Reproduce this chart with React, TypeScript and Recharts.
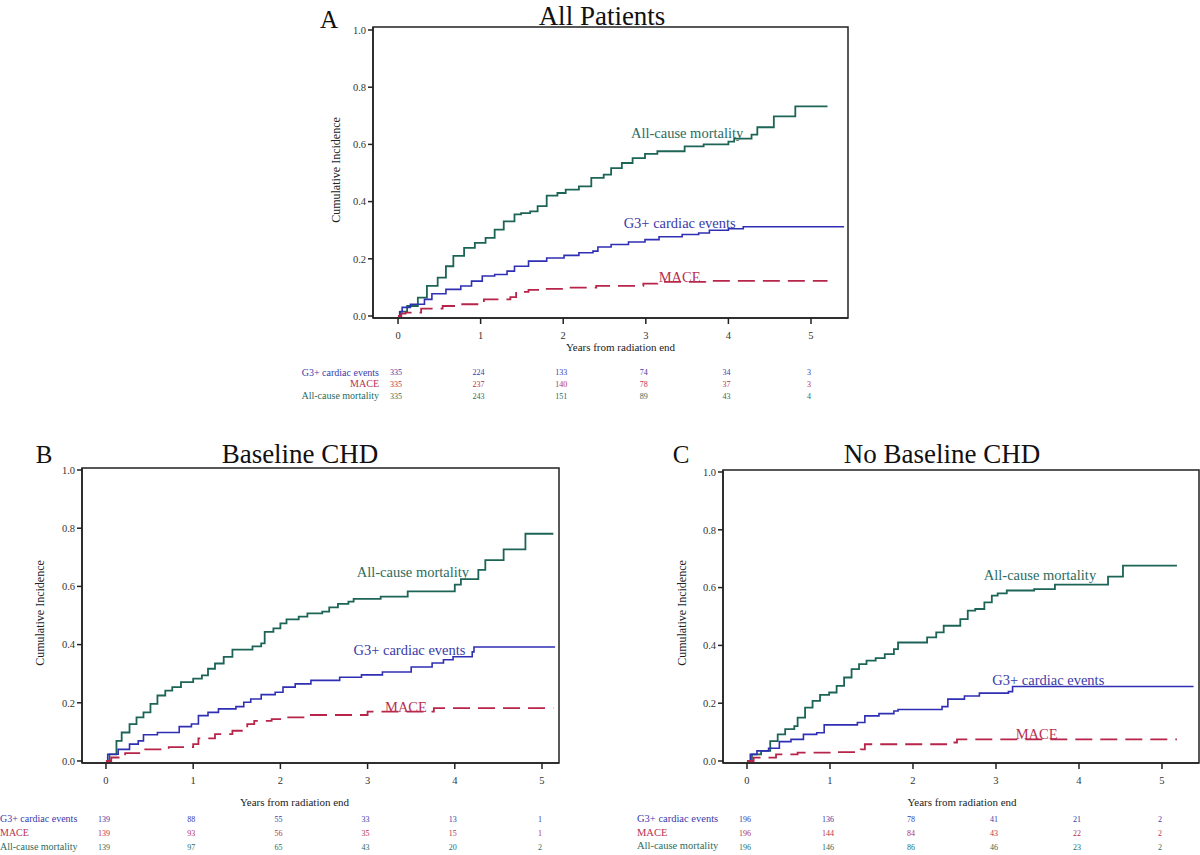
import React from 'react';
import { LineChart, Line, XAxis, YAxis, ReferenceArea, ReferenceDot } from 'recharts';

type Pt = { t: number; v: number };
const pts = (a: number[][]): Pt[] => a.map(([t, v]) => ({ t, v }));

// ---------- shared categories / ticks ----------
const yearTicks = [0, 1, 2, 3, 4, 5];
const incidenceTicks = [0, 0.2, 0.4, 0.6, 0.8, 1.0];
const seriesNames = ['G3+ cardiac events', 'MACE', 'All-cause mortality'];
const panelTitles = ['All Patients', 'Baseline CHD', 'No Baseline CHD'];
const panelLetters = ['A', 'B', 'C'];
const xAxisTitle = 'Years from radiation end';
const yAxisTitle = 'Cumulative Incidence';

// ---------- Panel A : All Patients ----------
const allMortality = pts([
  [0, 0], [0.03, 0.015], [0.11, 0.035], [0.24, 0.064], [0.35, 0.105], [0.48, 0.134], [0.58, 0.174],
  [0.67, 0.21], [0.8, 0.238], [0.93, 0.256], [1.06, 0.273], [1.17, 0.302], [1.28, 0.331], [1.41, 0.355],
  [1.49, 0.36], [1.6, 0.366], [1.69, 0.384], [1.8, 0.421], [1.93, 0.43], [2.03, 0.442], [2.19, 0.453],
  [2.34, 0.483], [2.49, 0.494], [2.58, 0.517], [2.71, 0.535], [2.84, 0.552], [2.99, 0.567], [3.14, 0.576],
  [3.47, 0.593], [3.7, 0.6], [4.0, 0.61], [4.07, 0.62], [4.28, 0.634], [4.35, 0.66], [4.55, 0.698],
  [4.81, 0.733], [5.2, 0.733],
]);
const allG3 = pts([
  [0, 0], [0.02, 0.015], [0.05, 0.03], [0.15, 0.041], [0.32, 0.058], [0.41, 0.078], [0.58, 0.093],
  [0.76, 0.105], [0.89, 0.122], [1.02, 0.14], [1.17, 0.145], [1.32, 0.157], [1.41, 0.174], [1.58, 0.192],
  [1.8, 0.203], [2.01, 0.212], [2.19, 0.221], [2.36, 0.227], [2.42, 0.241], [2.58, 0.25], [2.79, 0.259],
  [2.99, 0.267], [3.16, 0.277], [3.44, 0.285], [3.64, 0.29], [3.77, 0.3], [4.0, 0.305], [4.18, 0.312],
  [5.4, 0.312],
]);
const allMace = pts([
  [0, 0], [0.04, 0.008], [0.09, 0.012], [0.28, 0.026], [0.54, 0.035], [0.76, 0.041], [1.0, 0.044],
  [1.04, 0.058], [1.36, 0.066], [1.43, 0.084], [1.58, 0.091], [1.75, 0.095], [2.01, 0.099], [2.4, 0.105],
  [2.97, 0.113], [3.14, 0.119], [3.72, 0.123], [5.2, 0.123],
]);
const allRiskG3 = [335, 224, 133, 74, 34, 3];
const allRiskMace = [335, 237, 140, 78, 37, 3];
const allRiskMortality = [335, 243, 151, 89, 43, 4];

// ---------- Panel B : Baseline CHD ----------
const chdMortality = pts([
  [0, 0], [0.04, 0.023], [0.12, 0.069], [0.18, 0.098], [0.27, 0.127], [0.35, 0.15], [0.43, 0.167],
  [0.51, 0.196], [0.59, 0.225], [0.68, 0.242], [0.76, 0.254], [0.86, 0.271], [1.0, 0.283], [1.1, 0.294],
  [1.17, 0.317], [1.25, 0.335], [1.35, 0.358], [1.45, 0.383], [1.68, 0.394], [1.78, 0.404], [1.82, 0.444],
  [1.92, 0.456], [2.0, 0.473], [2.07, 0.487], [2.21, 0.496], [2.31, 0.507], [2.48, 0.513], [2.56, 0.528],
  [2.66, 0.54], [2.78, 0.548], [2.84, 0.557], [3.15, 0.565], [3.46, 0.583], [4.0, 0.606], [4.07, 0.625],
  [4.27, 0.657], [4.35, 0.69], [4.56, 0.727], [4.81, 0.781], [5.13, 0.781],
]);
const chdG3 = pts([
  [0, 0], [0.02, 0.023], [0.14, 0.04], [0.27, 0.058], [0.37, 0.069], [0.43, 0.09], [0.59, 0.098],
  [0.84, 0.118], [0.98, 0.127], [1.06, 0.156], [1.17, 0.167], [1.29, 0.179], [1.49, 0.187], [1.58, 0.202],
  [1.66, 0.213], [1.78, 0.228], [1.94, 0.236], [2.03, 0.254], [2.17, 0.265], [2.35, 0.277], [2.68, 0.288],
  [2.93, 0.296], [3.17, 0.306], [3.5, 0.323], [3.74, 0.337], [3.87, 0.348], [3.98, 0.358], [4.2, 0.375],
  [4.22, 0.392], [5.15, 0.392],
]);
const chdMace = pts([
  [0, 0], [0.06, 0.012], [0.22, 0.027], [0.43, 0.04], [0.72, 0.048], [1.0, 0.058], [1.06, 0.078],
  [1.25, 0.092], [1.45, 0.104], [1.62, 0.127], [1.7, 0.138], [1.9, 0.144], [2.03, 0.15], [2.33, 0.158],
  [3.0, 0.17], [3.76, 0.182], [5.13, 0.182],
]);
const chdRiskG3 = [139, 88, 55, 33, 13, 1];
const chdRiskMace = [139, 93, 56, 35, 15, 1];
const chdRiskMortality = [139, 97, 65, 43, 20, 2];

// ---------- Panel C : No Baseline CHD ----------
const noChdMortality = pts([
  [0, 0], [0.06, 0.023], [0.17, 0.035], [0.28, 0.069], [0.37, 0.092], [0.46, 0.11], [0.57, 0.121],
  [0.61, 0.15], [0.7, 0.185], [0.79, 0.208], [0.88, 0.229], [0.99, 0.237], [1.08, 0.26], [1.17, 0.289],
  [1.26, 0.318], [1.35, 0.335], [1.44, 0.347], [1.55, 0.356], [1.66, 0.37], [1.77, 0.387], [1.82, 0.41],
  [2.17, 0.428], [2.28, 0.445], [2.37, 0.468], [2.57, 0.491], [2.66, 0.52], [2.75, 0.526], [2.86, 0.549],
  [2.95, 0.572], [3.02, 0.58], [3.13, 0.59], [3.46, 0.595], [3.71, 0.61], [4.35, 0.638], [4.53, 0.676],
  [5.18, 0.676],
]);
const noChdG3 = pts([
  [0, 0], [0.04, 0.023], [0.12, 0.035], [0.26, 0.044], [0.39, 0.067], [0.53, 0.075], [0.68, 0.092],
  [0.84, 0.098], [0.93, 0.125], [1.33, 0.133], [1.42, 0.156], [1.59, 0.164], [1.77, 0.173], [1.82, 0.178],
  [2.35, 0.188], [2.42, 0.214], [2.62, 0.225], [2.8, 0.235], [3.15, 0.24], [3.2, 0.258], [5.38, 0.258],
]);
const noChdMace = pts([
  [0, 0], [0.08, 0.012], [0.35, 0.023], [0.61, 0.029], [1.04, 0.031], [1.37, 0.04], [1.42, 0.058],
  [2.4, 0.064], [2.53, 0.075], [5.18, 0.075],
]);
const noChdRiskG3 = [196, 136, 78, 41, 21, 2];
const noChdRiskMace = [196, 144, 84, 43, 22, 2];
const noChdRiskMortality = [196, 146, 86, 46, 23, 2];

// ---------- styles ----------
const FONT = '"Liberation Serif", "Times New Roman", serif';
const C_G3 = '#2f2fb4';
const C_MACE = '#b8244a';
const C_MORT = '#1c6456';
const T_G3 = '#3a3aa8';
const T_MACE = '#b83050';
const T_MORT = '#2b6c60';
const rowColors = [T_G3, T_MACE, T_MORT];
const AXIS = '#222';

type PanelCfg = {
  frame: { L: number; T: number; R: number; B: number };
  xDomain: [number, number];
  yDomain: [number, number];
  g3: Pt[]; mace: Pt[]; mort: Pt[];
  risk: number[][];
  notes: { x: number; y: number; text: string; color: string }[];
  offs: { tick: number; label: number; rows: number[] };
  labelDx: number;
};

const panels: PanelCfg[] = [
  {
    frame: { L: 373, T: 27, R: 848, B: 318 },
    xDomain: [-0.303, 5.448],
    yDomain: [-0.007, 1.0105],
    g3: allG3, mace: allMace, mort: allMortality,
    risk: [allRiskG3, allRiskMace, allRiskMortality],
    notes: [
      { x: 3.5, y: 0.64, text: seriesNames[2], color: T_MORT },
      { x: 3.41, y: 0.325, text: seriesNames[0], color: T_G3 },
      { x: 3.41, y: 0.136, text: seriesNames[1], color: T_MACE },
    ],
    offs: { tick: 17, label: 29, rows: [54.5, 66, 78] },
    labelDx: 10,
  },
  {
    frame: { L: 82, T: 468, R: 559, B: 763 },
    xDomain: [-0.275, 5.195],
    yDomain: [-0.0069, 1.0069],
    g3: chdG3, mace: chdMace, mort: chdMortality,
    risk: [chdRiskG3, chdRiskMace, chdRiskMortality],
    notes: [
      { x: 3.52, y: 0.648, text: seriesNames[2], color: T_MORT },
      { x: 3.48, y: 0.38, text: seriesNames[0], color: T_G3 },
      { x: 3.44, y: 0.187, text: seriesNames[1], color: T_MACE },
    ],
    offs: { tick: 17, label: 39, rows: [56, 70, 84] },
    labelDx: -26,
  },
  {
    frame: { L: 723, T: 470, R: 1199, B: 763 },
    xDomain: [-0.289, 5.446],
    yDomain: [-0.0069, 1.0069],
    g3: noChdG3, mace: noChdMace, mort: noChdMortality,
    risk: [noChdRiskG3, noChdRiskMace, noChdRiskMortality],
    notes: [
      { x: 3.53, y: 0.645, text: seriesNames[2], color: T_MORT },
      { x: 3.63, y: 0.28, text: seriesNames[0], color: T_G3 },
      { x: 3.49, y: 0.095, text: seriesNames[1], color: T_MACE },
    ],
    offs: { tick: 17, label: 39, rows: [56, 70, 84] },
    labelDx: 1,
  },
];

const YW = 40;
const XH = 95;
const PAD = 4;
const TICK = 6;

function Panel({ cfg }: { cfg: PanelCfg }) {
  const { frame, xDomain, yDomain, offs } = cfg;
  const width = frame.R - frame.L + YW + PAD;
  const height = frame.B - frame.T + PAD + XH;

  const renderTick = (p: any) => {
    const { x, y, payload } = p;
    const axisY = y - TICK;
    const idx = yearTicks.indexOf(payload.value);
    return (
      <g>
        <text x={x} y={axisY + offs.tick} textAnchor="middle" dominantBaseline="central"
          fontSize={10.5} fill="#333" fontFamily={FONT}>{payload.value}</text>
        {cfg.risk.map((row, r) => (
          <text key={r} x={x - 2} y={axisY + offs.rows[r]} textAnchor="middle" dominantBaseline="central"
            fontSize={8} fill={rowColors[r]} fontFamily={FONT}>{row[idx]}</text>
        ))}
      </g>
    );
  };

  const renderAxisTitle = (p: any) => {
    const vb = p.viewBox || {};
    return (
      <text x={vb.x + vb.width / 2 + cfg.labelDx} y={vb.y + offs.label} textAnchor="middle"
        dominantBaseline="central" fontSize={11} fill="#222" fontFamily={FONT}>{xAxisTitle}</text>
    );
  };

  const noteLabel = (text: string, color: string) => (p: any) => {
    const vb = p.viewBox || {};
    return (
      <text x={vb.x + (vb.width || 0) / 2} y={vb.y + (vb.height || 0) / 2} textAnchor="middle"
        dominantBaseline="central" fontSize={14.5} fill={color} fontFamily={FONT}>{text}</text>
    );
  };

  return (
    <div style={{ position: 'absolute', left: frame.L - YW, top: frame.T - PAD, width, height }}>
      <LineChart width={width} height={height} margin={{ top: PAD, right: PAD, bottom: 0, left: 0 }}>
        <XAxis
          dataKey="t" type="number" domain={xDomain} ticks={yearTicks} allowDataOverflow interval={0}
          height={XH} tickSize={TICK} tickMargin={0} tick={renderTick}
          axisLine={{ stroke: AXIS, strokeWidth: 1.5 }} tickLine={{ stroke: AXIS, strokeWidth: 1.5 }}
          label={renderAxisTitle}
        />
        <YAxis
          type="number" domain={yDomain} ticks={incidenceTicks} allowDataOverflow interval={0}
          width={YW} tickSize={5} tickMargin={2} tickFormatter={(v: number) => v.toFixed(1)}
          tick={{ fontSize: 10.5, fill: '#333', fontFamily: FONT }}
          axisLine={{ stroke: AXIS, strokeWidth: 1.5 }} tickLine={{ stroke: AXIS, strokeWidth: 1.5 }}
        />
        <ReferenceArea x1={xDomain[0]} x2={xDomain[1]} y1={yDomain[0]} y2={yDomain[1]}
          fill="none" fillOpacity={0} stroke={AXIS} strokeWidth={1.5} ifOverflow="visible" />
        <Line data={cfg.mort} dataKey="v" type="stepAfter" stroke={C_MORT} strokeWidth={1.8}
          dot={false} activeDot={false} isAnimationActive={false} />
        <Line data={cfg.g3} dataKey="v" type="stepAfter" stroke={C_G3} strokeWidth={1.6}
          dot={false} activeDot={false} isAnimationActive={false} />
        <Line data={cfg.mace} dataKey="v" type="stepAfter" stroke={C_MACE} strokeWidth={1.8}
          strokeDasharray="17 8" dot={false} activeDot={false} isAnimationActive={false} />
        {cfg.notes.map((n, i) => (
          <ReferenceDot key={i} x={n.x} y={n.y} r={1} fill="none" stroke="none"
            label={noteLabel(n.text, n.color)} />
        ))}
      </LineChart>
    </div>
  );
}

const centered = (cx: number, cy: number, size: number, color = '#111'): React.CSSProperties => ({
  position: 'absolute', left: cx, top: cy, transform: 'translate(-50%, -50%)', fontSize: size,
  lineHeight: 1, whiteSpace: 'nowrap', color, fontFamily: FONT,
});

const rotated = (cx: number, cy: number): React.CSSProperties => ({
  position: 'absolute', left: cx, top: cy, transform: 'translate(-50%, -50%) rotate(-90deg)',
  fontSize: 12, lineHeight: 1, whiteSpace: 'nowrap', color: '#222', fontFamily: FONT,
});

// positions of HTML text (page coordinates)
const letterPos = [[329, 19], [44, 454], [681, 454]];
const titlePos = [[602, 16], [300, 454], [942, 454]];
const yTitlePos = [[336, 170], [40, 613], [682, 613]];

export default function App() {
  return (
    <div style={{ position: 'absolute', left: 0, top: 0, width: 1200, height: 855, overflow: 'hidden',
      background: '#fff', fontFamily: FONT }}>
      {panels.map((p, i) => <Panel key={i} cfg={p} />)}
      {panelLetters.map((l, i) => (
        <div key={'l' + i} style={centered(letterPos[i][0], letterPos[i][1], 25)}>{l}</div>
      ))}
      {panelTitles.map((t, i) => (
        <div key={'t' + i} style={centered(titlePos[i][0], titlePos[i][1], 27)}>{t}</div>
      ))}
      {yTitlePos.map((pos, i) => (
        <div key={'y' + i} style={rotated(pos[0], pos[1])}>{yAxisTitle}</div>
      ))}
      {/* risk-table row labels */}
      {seriesNames.map((s, r) => (
        <div key={'ra' + r} style={{ position: 'absolute', right: 1200 - 379, top: 372.5 + r * 11.7,
          transform: 'translateY(-50%)', fontSize: 10, lineHeight: 1, whiteSpace: 'nowrap',
          color: rowColors[r], fontFamily: FONT }}>{s}</div>
      ))}
      {seriesNames.map((s, r) => (
        <div key={'rb' + r} style={{ position: 'absolute', left: 0, top: 819 + r * 13.8,
          transform: 'translateY(-50%)', fontSize: 10, lineHeight: 1, whiteSpace: 'nowrap',
          color: rowColors[r], fontFamily: FONT }}>{s}</div>
      ))}
      {seriesNames.map((s, r) => (
        <div key={'rc' + r} style={{ position: 'absolute', left: 637, top: 819 + r * 13.6,
          transform: 'translateY(-50%)', fontSize: 10.5, lineHeight: 1, whiteSpace: 'nowrap',
          color: rowColors[r], fontFamily: FONT }}>{s}</div>
      ))}
    </div>
  );
}
